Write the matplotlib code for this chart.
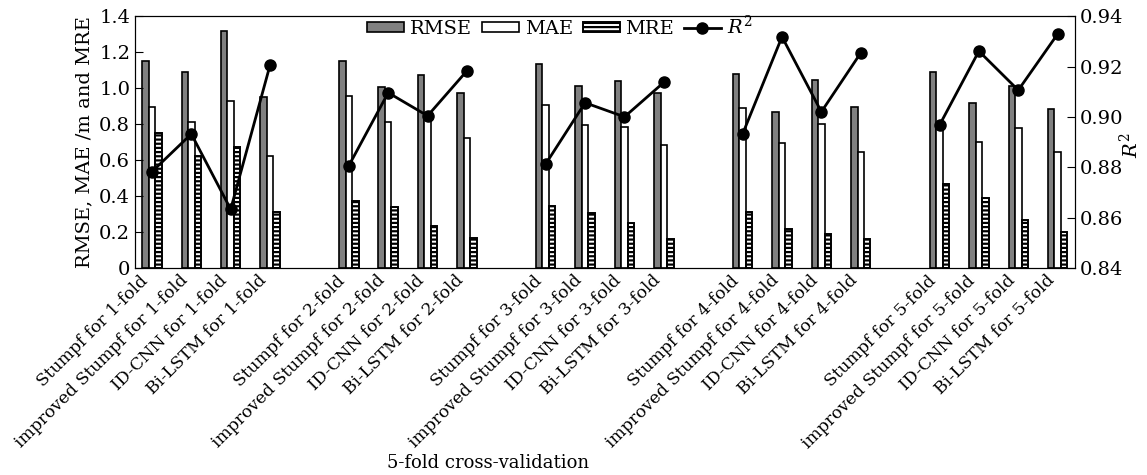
import matplotlib
matplotlib.use("Agg")
import matplotlib.pyplot as plt
import matplotlib.transforms as mtransforms
import numpy as np

plt.rcParams['font.family'] = ['DejaVu Serif']
plt.rcParams['mathtext.fontset'] = 'dejavuserif'
plt.rcParams['hatch.linewidth'] = 1.6

methods = ["Stumpf", "improved Stumpf", "ID-CNN", "Bi-LSTM"]
folds = ["1-fold", "2-fold", "3-fold", "4-fold", "5-fold"]

# values per fold, in method order
rmse = [
    [1.152, 1.087, 1.320, 0.948],
    [1.152, 1.007, 1.072, 0.974],
    [1.133, 1.013, 1.037, 0.974],
    [1.078, 0.869, 1.043, 0.893],
    [1.087, 0.919, 1.013, 0.883],
]
mae = [
    [0.893, 0.813, 0.929, 0.624],
    [0.954, 0.809, 0.832, 0.720],
    [0.904, 0.794, 0.785, 0.683],
    [0.887, 0.696, 0.798, 0.644],
    [0.807, 0.698, 0.780, 0.644],
]
mre = [
    [0.748, 0.622, 0.674, 0.313],
    [0.372, 0.337, 0.233, 0.168],
    [0.344, 0.304, 0.248, 0.159],
    [0.313, 0.219, 0.189, 0.163],
    [0.468, 0.387, 0.267, 0.198],
]
r2 = [
    [0.8782, 0.8932, 0.8633, 0.9206],
    [0.8806, 0.9096, 0.9004, 0.9183],
    [0.8813, 0.9056, 0.9000, 0.9137],
    [0.8932, 0.9318, 0.9020, 0.9254],
    [0.8967, 0.9261, 0.9106, 0.9329],
]

labels = []
pos = []
for f, fold in enumerate(folds):
    for m, meth in enumerate(methods):
        labels.append(meth + " for " + fold)
        pos.append(f * 5 + m)
pos = np.array(pos, dtype=float)

rmse_v = np.array(rmse).ravel()
mae_v = np.array(mae).ravel()
mre_v = np.array(mre).ravel()
r2_v = np.array(r2)

fig = plt.figure(figsize=(11.47, 4.75), dpi=100)
ax = fig.add_axes([0.1177, 0.436, 0.8195, 0.530])
w = 0.165

ax.bar(pos - w, rmse_v, w, color="#808080", edgecolor="black", linewidth=1.2, label="RMSE")
ax.bar(pos, mae_v, w, color="white", edgecolor="black", linewidth=1.2, label="MAE")
ax.bar(pos + w, mre_v, w, color="white", edgecolor="black", linewidth=1.4, hatch="----", label="MRE")

ax.set_ylim(0, 1.4)
ax.set_yticks(np.arange(0, 1.41, 0.2))
ax.set_yticklabels(["0"] + ["%.1f" % v for v in np.arange(0.2, 1.41, 0.2)])
ax.set_xlim(-0.43, 23.44)
ax.set_xticks(pos)
ax.set_xticklabels(labels, rotation=45, ha="right", fontsize=12.3)
shift = mtransforms.ScaledTranslation(-0.15, 0, fig.dpi_scale_trans)
for t in ax.get_xticklabels():
    t.set_transform(t.get_transform() + shift)
ax.tick_params(axis="x", length=0, pad=3)
ax.tick_params(axis="y", direction="in", length=6, labelsize=14)
ax.set_ylabel("RMSE, MAE /m and MRE", fontsize=14)
fig.text(488 / 1147, 1 - 463 / 475, "5-fold cross-validation", fontsize=13,
         ha="center", va="center")

ax2 = ax.twinx()
for f in range(5):
    ax2.plot(pos[f * 4:(f + 1) * 4], r2_v[f], color="black", linewidth=2,
             marker="o", markersize=8, label="$R^2$" if f == 0 else None)
ax2.set_ylim(0.84, 0.94)
ax2.set_yticks(np.arange(0.84, 0.9401, 0.02))
ax2.set_yticklabels(["%.2f" % v for v in np.arange(0.84, 0.9401, 0.02)])
ax2.tick_params(axis="y", direction="in", length=6, labelsize=14)
fig.text(1130 / 1147, 1 - 145 / 475, "$R^2$", fontsize=14, rotation=90,
         ha="center", va="center")

h1, l1 = ax.get_legend_handles_labels()
h2, l2 = ax2.get_legend_handles_labels()
ax.legend(h1 + h2, l1 + l2, ncol=4, frameon=False, loc="upper center",
          bbox_to_anchor=(0.452, 1.075), fontsize=14, handlelength=1.9,
          handleheight=0.4, columnspacing=0.5, handletextpad=0.3)

fig.savefig("out.png", dpi=100)
